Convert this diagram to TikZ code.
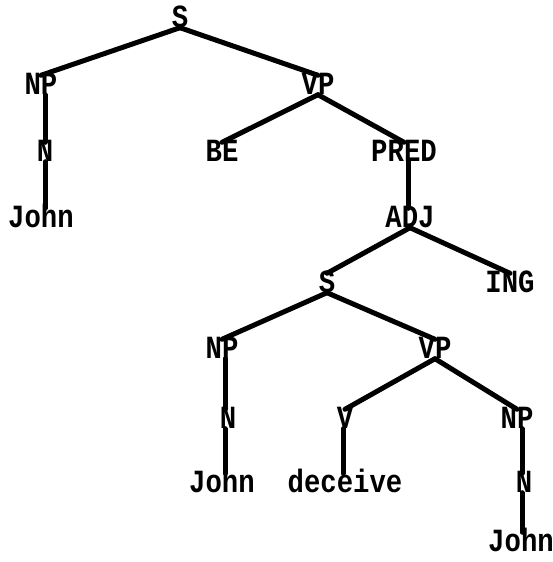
\documentclass[tikz,border=0pt]{standalone}
\usepackage{graphicx}
\usepackage{fontspec}
\setmonofont{Liberation Mono}
\newcommand\tx[1]{\scalebox{1.03}[1.22]{#1}}
\begin{document}
\begin{tikzpicture}[x=1pt,y=-1pt,
  lab/.style={font=\ttfamily\bfseries\fontsize{26.5}{26.5}\selectfont, inner sep=0pt, text height=19pt, text depth=0pt},
  edge/.style={line width=5pt, line cap=round}]
\fill[white] (0,0) rectangle (553,562);
\useasboundingbox (0,0) rectangle (553,562);
\node[lab] (s1) at (180,18) {\tx{S}};
\node[lab] (np1) at (41,85) {\tx{NP}};
\node[lab] (vp1) at (318,85) {\tx{VP}};
\node[lab] (n1) at (45,152) {\tx{N}};
\node[lab] (be) at (222,152) {\tx{BE}};
\node[lab] (pred) at (404,152) {\tx{PRED}};
\node[lab] (john1) at (41,218) {\tx{John}};
\node[lab] (adj) at (410,218) {\tx{ADJ}};
\node[lab] (s2) at (327,283) {\tx{S}};
\node[lab] (ing) at (510,283) {\tx{ING}};
\node[lab] (np2) at (222,349) {\tx{NP}};
\node[lab] (vp2) at (435,349) {\tx{VP}};
\node[lab] (n2) at (228,419) {\tx{N}};
\node[lab] (v) at (345,419) {\tx{V}};
\node[lab] (np3) at (517,419) {\tx{NP}};
\node[lab] (john2) at (222,483) {\tx{John}};
\node[lab] (deceive) at (345,483) {\tx{deceive}};
\node[lab] (n3) at (524,483) {\tx{N}};
\node[lab] (john3) at (521,542) {\tx{John}};
\foreach \a/\b in {s1/np1, s1/vp1, vp1/be, vp1/pred, adj/s2, adj/ing, s2/np2, s2/vp2, vp2/v, vp2/np3}
  \draw[edge] (\a.south) -- (\b.north);
\foreach \a/\b/\x in {np1/n1/45, n1/john1/45, pred/adj/408, np2/n2/225, n2/john2/225, v/deceive/343, np3/n3/522, n3/john3/522}
  \draw[edge] (\x,0 |- \a.south) -- (\x,0 |- \b.north);
\end{tikzpicture}
\end{document}
